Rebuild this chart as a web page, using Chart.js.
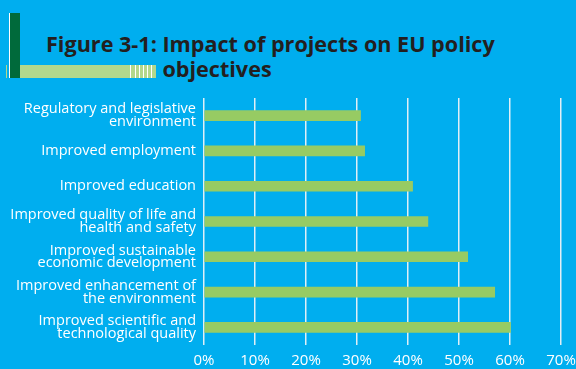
<!DOCTYPE html>
<html>
<head>
<meta charset="utf-8">
<script src="https://cdn.jsdelivr.net/npm/chart.js@4"></script>
<style>
  html, body { margin: 0; padding: 0; background: #00aeef; }
  #wrap { position: relative; width: 576px; height: 369px; overflow: hidden; background: #00aeef; }
  #chart { position: absolute; left: 0; top: 0; }
  .deco { position: absolute; }
  #barLight { left: 6px; top: 65px; width: 150px; height: 13px;
    background: linear-gradient(to right, #b3d88c 0, #b3d88c 124px, #fff 124px, #fff 125px, #b3d88c 125px, #b3d88c 129px, #fff 129px, #fff 130px, #b3d88c 130px, #b3d88c 133px, #fff 133px, #fff 134px, #b3d88c 134px, #b3d88c 137px, #fff 137px, #fff 138px, #b3d88c 138px, #b3d88c 141px, #fff 141px, #fff 142px, #b3d88c 142px, #b3d88c 145px, #fff 145px, #fff 146px, #b3d88c 146px, #b3d88c 150px); }
  #barDark { left: 7px; top: 13px; width: 13px; height: 65px; background: #006a3b; border-left: 2px solid #00aeef; box-sizing: border-box; }
  #barDark::before { content: ""; position: absolute; left: 0; top: 0; width: 1px; height: 100%; background: #ffffff; }
  #title { position: absolute; left: 46px; top: 31px; font-family: "Open Sans", sans-serif; font-weight: 700; font-size: 21.6px; line-height: 25px; color: #231f20; white-space: nowrap; }
  #title span { display: inline-block; vertical-align: top; }
</style>
</head>
<body>
<div id="wrap">
  <div class="deco" id="barLight"></div>
  <div class="deco" id="barDark"></div>
  <div id="title"><span>Figure 3-1:&nbsp;</span><span>Impact of projects on EU policy<br>objectives</span></div>
  <canvas id="chart" width="576" height="369"></canvas>
</div>
<script>
// Policy objectives, top to bottom, with line breaks as printed
const categories = [
  ["Regulatory and legislative", "environment"],
  ["Improved employment"],
  ["Improved education"],
  ["Improved quality of life and", "health and safety"],
  ["Improved sustainable", "economic development"],
  ["Improved enhancement of", "the environment"],
  ["Improved scientific and", "technological quality"]
];

// Share of projects (%) with an impact on each objective
const impactShare = [30.7, 31.5, 40.9, 43.9, 51.7, 57.0, 60.1];

// Horizontal axis ticks (%)
const xTicks = [0, 10, 20, 30, 40, 50, 60, 70];

const white = "#ffffff";
const gridWhite = "rgba(235,242,246,0.95)";

new Chart(document.getElementById("chart"), {
  type: "bar",
  data: {
    labels: categories,
    datasets: [{
      data: impactShare,
      backgroundColor: "#97cb63",
      borderWidth: 0,
      barThickness: 10
    }]
  },
  options: {
    indexAxis: "y",
    responsive: false,
    animation: false,
    layout: { padding: { top: 98, right: 0, bottom: 0, left: 0 } },
    plugins: { legend: { display: false }, tooltip: { enabled: false } },
    scales: {
      x: {
        min: xTicks[0],
        max: xTicks[xTicks.length - 1],
        afterBuildTicks: (scale) => { scale.ticks = xTicks.map(v => ({ value: v })); },
        afterFit: (scale) => { scale.height = 24; scale.paddingRight = 15; },
        border: { display: false },
        grid: { color: gridWhite, lineWidth: 1.5, drawTicks: false },
        ticks: {
          color: white,
          padding: 7,
          font: { family: "Open Sans", size: 15 },
          callback: (v) => v + "%"
        }
      },
      y: {
        border: { display: false },
        grid: { display: false, drawTicks: false },
        afterFit: (scale) => { scale.width = 204; },
        ticks: {
          color: white,
          padding: 8,
          font: { family: "Open Sans", size: 14.5, lineHeight: 0.88 }
        }
      }
    }
  }
});
</script>
</body>
</html>
